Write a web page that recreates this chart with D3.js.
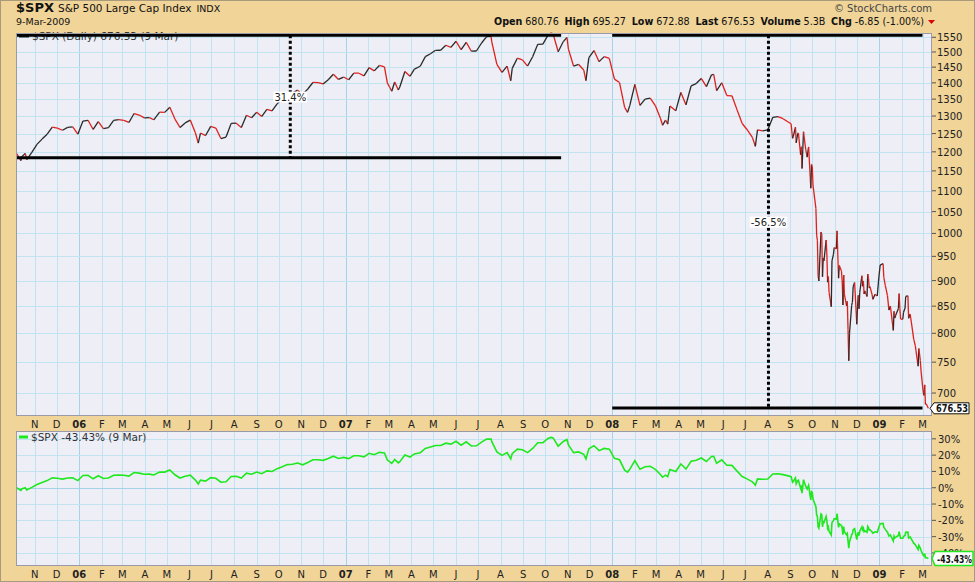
<!DOCTYPE html>
<html><head><meta charset="utf-8">
<script src="https://cdn.jsdelivr.net/npm/d3@7"></script>
<style>
body{margin:0;background:#F0D498;}
svg{display:block;font-family:"DejaVu Sans",Verdana,sans-serif;}
</style>
</head><body>
<svg id="c" width="975" height="582"></svg>
<script>
// ---- DATA ----
const dates = [
"2005-10-07","2005-10-13","2005-10-14","2005-10-19","2005-10-21","2005-10-28","2005-11-04","2005-11-11","2005-11-18","2005-11-25",
"2005-12-02","2005-12-09","2005-12-16","2005-12-23","2005-12-30","2006-01-06","2006-01-13","2006-01-20","2006-01-27","2006-02-03",
"2006-02-10","2006-02-17","2006-02-24","2006-03-03","2006-03-10","2006-03-17","2006-03-24","2006-03-31","2006-04-07","2006-04-13",
"2006-04-21","2006-04-28","2006-05-05","2006-05-12","2006-05-19","2006-05-26","2006-06-02","2006-06-09","2006-06-13","2006-06-16",
"2006-06-23","2006-06-30","2006-07-07","2006-07-14","2006-07-21","2006-07-28","2006-08-04","2006-08-11","2006-08-18","2006-08-25",
"2006-09-01","2006-09-08","2006-09-15","2006-09-22","2006-09-29","2006-10-06","2006-10-13","2006-10-20","2006-10-27","2006-11-03",
"2006-11-10","2006-11-17","2006-11-24","2006-12-01","2006-12-08","2006-12-15","2006-12-22","2006-12-29","2007-01-05","2007-01-12",
"2007-01-19","2007-01-26","2007-02-02","2007-02-09","2007-02-16","2007-02-23","2007-02-27","2007-03-02","2007-03-05","2007-03-09",
"2007-03-14","2007-03-16","2007-03-23","2007-03-30","2007-04-05","2007-04-13","2007-04-20","2007-04-27","2007-05-04","2007-05-11",
"2007-05-18","2007-05-25","2007-06-01","2007-06-08","2007-06-15","2007-06-22","2007-06-29","2007-07-06","2007-07-13","2007-07-19",
"2007-07-20","2007-07-27","2007-08-03","2007-08-10","2007-08-15","2007-08-17","2007-08-24","2007-08-31","2007-09-07","2007-09-14",
"2007-09-21","2007-09-28","2007-10-05","2007-10-09","2007-10-12","2007-10-19","2007-10-26","2007-10-31","2007-11-02","2007-11-09",
"2007-11-16","2007-11-23","2007-11-26","2007-11-30","2007-12-07","2007-12-14","2007-12-21","2007-12-28","2008-01-04","2008-01-11",
"2008-01-18","2008-01-22","2008-01-25","2008-02-01","2008-02-08","2008-02-15","2008-02-22","2008-02-29","2008-03-07","2008-03-10",
"2008-03-14","2008-03-17","2008-03-20","2008-03-28","2008-04-04","2008-04-11","2008-04-18","2008-04-25","2008-05-02","2008-05-09",
"2008-05-16","2008-05-19","2008-05-23","2008-05-30","2008-06-06","2008-06-13","2008-06-20","2008-06-27","2008-07-03","2008-07-11",
"2008-07-15","2008-07-18","2008-07-25","2008-08-01","2008-08-08","2008-08-15","2008-08-22","2008-08-29","2008-09-02","2008-09-04",
"2008-09-05","2008-09-08","2008-09-09","2008-09-11","2008-09-12","2008-09-15","2008-09-16","2008-09-17","2008-09-18","2008-09-19",
"2008-09-22","2008-09-24","2008-09-26","2008-09-29","2008-09-30","2008-10-01","2008-10-02","2008-10-03","2008-10-06","2008-10-07",
"2008-10-08","2008-10-09","2008-10-10","2008-10-13","2008-10-14","2008-10-15","2008-10-16","2008-10-17","2008-10-20","2008-10-21",
"2008-10-22","2008-10-23","2008-10-24","2008-10-27","2008-10-28","2008-10-30","2008-10-31","2008-11-03","2008-11-04","2008-11-05",
"2008-11-06","2008-11-07","2008-11-10","2008-11-11","2008-11-12","2008-11-13","2008-11-14","2008-11-17","2008-11-18","2008-11-19",
"2008-11-20","2008-11-21","2008-11-24","2008-11-25","2008-11-26","2008-11-28","2008-12-01","2008-12-02","2008-12-03","2008-12-04",
"2008-12-05","2008-12-08","2008-12-09","2008-12-10","2008-12-11","2008-12-12","2008-12-15","2008-12-16","2008-12-17","2008-12-18",
"2008-12-19","2008-12-22","2008-12-23","2008-12-26","2008-12-29","2008-12-31","2009-01-02","2009-01-06","2009-01-07","2009-01-09",
"2009-01-12","2009-01-14","2009-01-16","2009-01-20","2009-01-21","2009-01-22","2009-01-23","2009-01-27","2009-01-28","2009-01-29",
"2009-01-30","2009-02-02","2009-02-03","2009-02-05","2009-02-06","2009-02-09","2009-02-10","2009-02-12","2009-02-13","2009-02-17",
"2009-02-19","2009-02-20","2009-02-23","2009-02-24","2009-02-26","2009-02-27","2009-03-02","2009-03-03","2009-03-04","2009-03-05",
"2009-03-06","2009-03-09"];
const closes = [
1195.90,1176.84,1186.57,1195.76,1179.59,1198.41,1220.14,1234.72,1248.27,1268.25,
1265.08,1259.37,1267.32,1268.66,1248.29,1285.45,1287.61,1261.49,1283.72,1264.03,
1266.99,1287.24,1289.43,1287.23,1281.42,1307.25,1302.95,1294.83,1295.50,1289.12,
1311.28,1310.61,1325.76,1291.24,1267.03,1280.16,1288.22,1252.30,1223.69,1251.54,
1244.50,1270.20,1265.48,1236.20,1240.29,1278.55,1279.36,1266.74,1302.30,1295.09,
1311.01,1298.92,1319.66,1314.78,1335.85,1349.59,1365.62,1368.60,1377.34,1364.30,
1380.90,1401.20,1400.95,1396.71,1409.84,1427.09,1410.76,1418.30,1409.71,1430.73,
1430.50,1422.18,1448.39,1438.06,1455.54,1451.19,1399.04,1387.17,1374.12,1402.84,
1377.95,1386.95,1436.11,1420.86,1443.76,1452.85,1484.35,1494.07,1505.62,1505.85,
1522.75,1515.73,1536.34,1507.67,1532.91,1502.56,1503.35,1530.44,1552.50,1553.08,
1534.10,1458.95,1433.06,1453.64,1406.70,1445.94,1479.37,1473.99,1453.55,1484.25,
1525.75,1526.75,1557.59,1565.15,1561.80,1500.63,1535.28,1549.38,1509.65,1453.70,
1458.74,1440.70,1407.22,1481.14,1504.66,1467.95,1484.46,1478.49,1411.63,1401.02,
1325.19,1310.50,1330.61,1395.42,1331.29,1349.99,1353.11,1330.63,1293.37,1273.37,
1288.14,1276.60,1329.51,1315.22,1370.40,1332.83,1390.33,1397.84,1413.90,1388.28,
1425.35,1426.63,1375.93,1400.38,1360.68,1360.03,1317.93,1278.38,1262.90,1239.49,
1214.91,1260.68,1257.76,1260.31,1296.32,1298.20,1292.20,1282.83,1277.58,1236.83,
1242.31,1267.79,1224.51,1249.05,1251.70,1192.70,1213.60,1156.39,1206.51,1255.08,
1207.09,1185.87,1213.27,1106.39,1166.36,1161.06,1114.28,1099.23,1056.89,996.23,
984.94,909.92,899.22,1003.35,998.01,907.84,946.43,940.55,985.40,955.05,
896.78,908.11,876.77,848.92,940.51,954.09,968.75,966.30,1005.75,952.77,
904.88,930.99,919.21,898.95,852.30,911.29,873.29,850.75,859.12,806.58,
752.44,800.03,851.81,857.39,887.68,896.24,816.21,848.81,870.74,845.22,
876.07,909.70,888.67,899.24,873.59,879.73,868.57,913.18,904.42,885.28,
887.88,871.63,863.16,872.80,869.42,903.25,931.80,934.70,906.65,890.35,
870.26,842.62,850.12,805.22,840.24,827.50,831.95,845.71,874.09,845.14,
825.88,825.44,838.51,845.85,868.60,869.89,827.16,835.19,826.84,789.17,
778.94,770.05,743.33,773.14,752.83,735.09,700.82,696.33,712.87,682.55,
683.38,676.53];
const priceTicks = [700,750,800,850,900,950,1000,1050,1100,1150,1200,1250,1300,1350,1400,1450,1500,1550];
const pctTicks = [30,20,10,0,-10,-20,-30,-40];
const monthInitials = ["J","F","M","A","M","J","J","A","S","O","N","D"];
// Annotation: rise
const riseDates = ["2005-10-07","2007-10-23"];
const riseLevels = [1184,1557];
const riseMarkDate = "2006-10-17";
const riseLabel = "31.4%";
// Annotation: fall
const fallDates = ["2008-01-01","2009-03-01"];
const fallLevels = [1557,677];
const fallMarkDate = "2008-08-02";
const fallLabel = "-56.5%";
const headerStats = [["Open","680.76"],["High","695.27"],["Low","672.88"],["Last","676.53"],["Volume","5.3B"],["Chg","-6.85 (-1.00%)"]];

// ---- LAYOUT ----
const svg = d3.select("#c");
const L = 16, R = 932;
const T1 = 33, B1 = 416, T2 = 431, B2 = 566;
const parse = d3.timeParse("%Y-%m-%d");
const data = dates.map((d,i)=>({date:parse(d), v:closes[i]}));
const base = data[0].v;
data.forEach(d=>d.pct = (d.v/base - 1)*100);

const x = d3.scaleTime().domain([parse("2005-10-07"), parse("2009-03-14")]).range([L+0.5, R]);
const y = d3.scaleLog().domain([665,1565]).range([B1,T1]);
const y2 = d3.scaleLinear().domain([-48,34.8]).range([B2,T2]);

const bg="#F0D498", plotBg="#EEEEF7", grid="#C2E3F0", gridYear="#A4D2E6";

svg.append("rect").attr("x",0.5).attr("y",0.5).attr("width",974).attr("height",581).attr("fill",bg).attr("stroke","#a89a7a");

// panels
[[T1,B1],[T2,B2]].forEach(([t,b])=>{
  svg.append("rect").attr("x",L).attr("y",t).attr("width",R-L).attr("height",b-t).attr("fill",plotBg);
});

const months = d3.timeMonth.range(d3.timeMonth.ceil(x.domain()[0]), x.domain()[1]);
// vertical grid
[[T1,B1],[T2,B2]].forEach(([t,b])=>{
  svg.append("g").selectAll("line").data(months).join("line")
    .attr("x1",d=>Math.round(x(d))+0.5).attr("x2",d=>Math.round(x(d))+0.5)
    .attr("y1",t).attr("y2",b)
    .attr("stroke",d=>d.getMonth()===0?gridYear:grid).attr("stroke-width",1);
});
// horizontal grid
svg.append("g").selectAll("line").data(priceTicks).join("line")
  .attr("x1",L).attr("x2",R).attr("y1",d=>Math.round(y(d))+0.5).attr("y2",d=>Math.round(y(d))+0.5)
  .attr("stroke",grid);
svg.append("g").selectAll("line").data(pctTicks).join("line")
  .attr("x1",L).attr("x2",R).attr("y1",d=>Math.round(y2(d))+0.5).attr("y2",d=>Math.round(y2(d))+0.5)
  .attr("stroke",d=>d===0?gridYear:grid);

// top legend
svg.append("line").attr("x1",19).attr("x2",29).attr("y1",36).attr("y2",36).attr("stroke","#222").attr("stroke-width",3);
svg.append("text").attr("x",32).attr("y",40).attr("font-size",10.5).attr("fill","#333")
  .text("$SPX (Daily) 676.53 (9 Mar)");

// price line segments colored by direction
const seg = svg.append("g").attr("fill","none").attr("stroke-width",1.3).attr("stroke-linejoin","round");
const lineGen = d3.line().x(d=>x(d.date)).y(d=>y(d.v));
for(let i=1;i<data.length;i++){
  seg.append("path").attr("d",lineGen([data[i-1],data[i]]))
    .attr("stroke", data[i].v>=data[i-1].v ? "#2a2a2a" : "#E0201C");
}

// annotations
function annot(dts, lv, mark, label){
  const x0 = x(parse(dts[0])), x1 = x(parse(dts[1])), xm = x(parse(mark));
  const yA = y(lv[0]), yB = y(lv[1]);
  const g = svg.append("g");
  g.append("line").attr("x1",x0).attr("x2",x1).attr("y1",yA).attr("y2",yA).attr("stroke","#000").attr("stroke-width",3);
  g.append("line").attr("x1",x0).attr("x2",x1).attr("y1",yB).attr("y2",yB).attr("stroke","#000").attr("stroke-width",3);
  g.append("line").attr("x1",xm).attr("x2",xm).attr("y1",Math.min(yA,yB)).attr("y2",Math.max(yA,yB))
    .attr("stroke","#000").attr("stroke-width",3).attr("stroke-dasharray","3,2.5");
  const ym = (yA+yB)/2;
  const t = g.append("text").attr("x",xm).attr("y",ym+4).attr("text-anchor","middle").attr("font-size",10).attr("fill","#222").text(label);
  const bb = t.node().getBBox();
  g.insert("rect","text").attr("x",bb.x-1).attr("y",bb.y).attr("width",bb.width+2).attr("height",bb.height).attr("fill","#fff");
}
annot(riseDates, riseLevels, riseMarkDate, riseLabel);
annot(fallDates, fallLevels, fallMarkDate, fallLabel);

// percent line
const pctLine = d3.line().x(d=>x(d.date)).y(d=>y2(d.pct));
svg.append("path").attr("d",pctLine(data)).attr("fill","none").attr("stroke","#1EE81E").attr("stroke-width",1.6);
svg.append("line").attr("x1",19).attr("x2",28).attr("y1",437).attr("y2",437).attr("stroke","#1EE81E").attr("stroke-width",3);
svg.append("text").attr("x",31).attr("y",441).attr("font-size",10.5).attr("fill","#333").text("$SPX -43.43% (9 Mar)");

// panel borders
[[T1,B1],[T2,B2]].forEach(([t,b])=>{
  svg.append("rect").attr("x",L+0.5).attr("y",t+0.5).attr("width",R-L-1).attr("height",b-t-1).attr("fill","none").attr("stroke","#9a9aa8");
});

// right axes
const ra = svg.append("g");
priceTicks.forEach(v=>{
  const yy = y(v);
  ra.append("line").attr("x1",R).attr("x2",R+4).attr("y1",yy).attr("y2",yy).attr("stroke","#555");
  ra.append("text").attr("x",R+5).attr("y",yy+4).attr("font-size",10).attr("fill","#222").text(v);
});
pctTicks.forEach(v=>{
  const yy = y2(v);
  ra.append("line").attr("x1",R).attr("x2",R+4).attr("y1",yy).attr("y2",yy).attr("stroke","#555");
  ra.append("text").attr("x",R+6).attr("y",yy+4).attr("font-size",10).attr("fill","#222").text(v+"%");
});

// month labels
[B1+12, B2+12].forEach(yy=>{
  svg.append("g").selectAll("text").data(months).join("text")
    .attr("x",d=>x(d)).attr("y",yy).attr("text-anchor","middle").attr("font-size",10)
    .attr("font-weight",d=>d.getMonth()===0?"bold":"normal").attr("fill","#222")
    .text(d=>d.getMonth()===0? d3.timeFormat("%y")(d) : monthInitials[d.getMonth()]);
});

// last value tags
const last = data[data.length-1];
const ty = y(last.v);
svg.append("path").attr("d",`M${R-2},${ty} L${R+2},${ty-5.5} L${R+37},${ty-5.5} L${R+37},${ty+5.5} L${R+2},${ty+5.5} Z`)
  .attr("fill","#fff").attr("stroke","#111");
svg.append("text").attr("x",R+20).attr("y",ty+4).attr("text-anchor","middle").attr("font-size",10).attr("font-weight","bold").attr("fill","#111")
  .attr("textLength",32).attr("lengthAdjust","spacingAndGlyphs").text(last.v.toFixed(2));
const ty2 = y2(last.pct);
svg.append("path").attr("d",`M${R},${ty2} L${R+3},${ty2-7} L${R+41},${ty2-7} L${R+41},${ty2+7} L${R+3},${ty2+7} Z`)
  .attr("fill","#fff").attr("stroke","#1EE81E").attr("stroke-width",1.5);
svg.append("text").attr("x",R+22.5).attr("y",ty2+4).attr("text-anchor","middle").attr("font-size",10).attr("font-weight","bold").attr("fill","#111")
  .attr("textLength",35).attr("lengthAdjust","spacingAndGlyphs").text(last.pct.toFixed(2)+"%");

// header
const h = svg.append("text").attr("x",16).attr("y",12).attr("fill","#111");
h.append("tspan").attr("font-size",13).attr("font-weight","bold").text("$SPX");
h.append("tspan").attr("font-size",10.5).attr("dx",4).text("S&P 500 Large Cap Index");
h.append("tspan").attr("font-size",9.5).attr("dx",5).text("INDX");
svg.append("text").attr("x",16).attr("y",25).attr("font-size",9.5).attr("fill","#111").text("9-Mar-2009");
svg.append("text").attr("x",932).attr("y",12).attr("text-anchor","end").attr("font-size",10).attr("fill","#444").text("© StockCharts.com");
const hs = svg.append("text").attr("x",494).attr("y",25).attr("font-size",10).attr("fill","#111");
headerStats.forEach(([k,v],i)=>{
  hs.append("tspan").attr("font-weight","bold").attr("dx",i?6:0).text(k);
  hs.append("tspan").attr("dx",3).text(v);
});
hs.attr("textLength",430).attr("lengthAdjust","spacingAndGlyphs");
svg.append("path").attr("d","M928,20 L935,20 L931.5,24 Z").attr("fill","#d00");
</script>
</body></html>
